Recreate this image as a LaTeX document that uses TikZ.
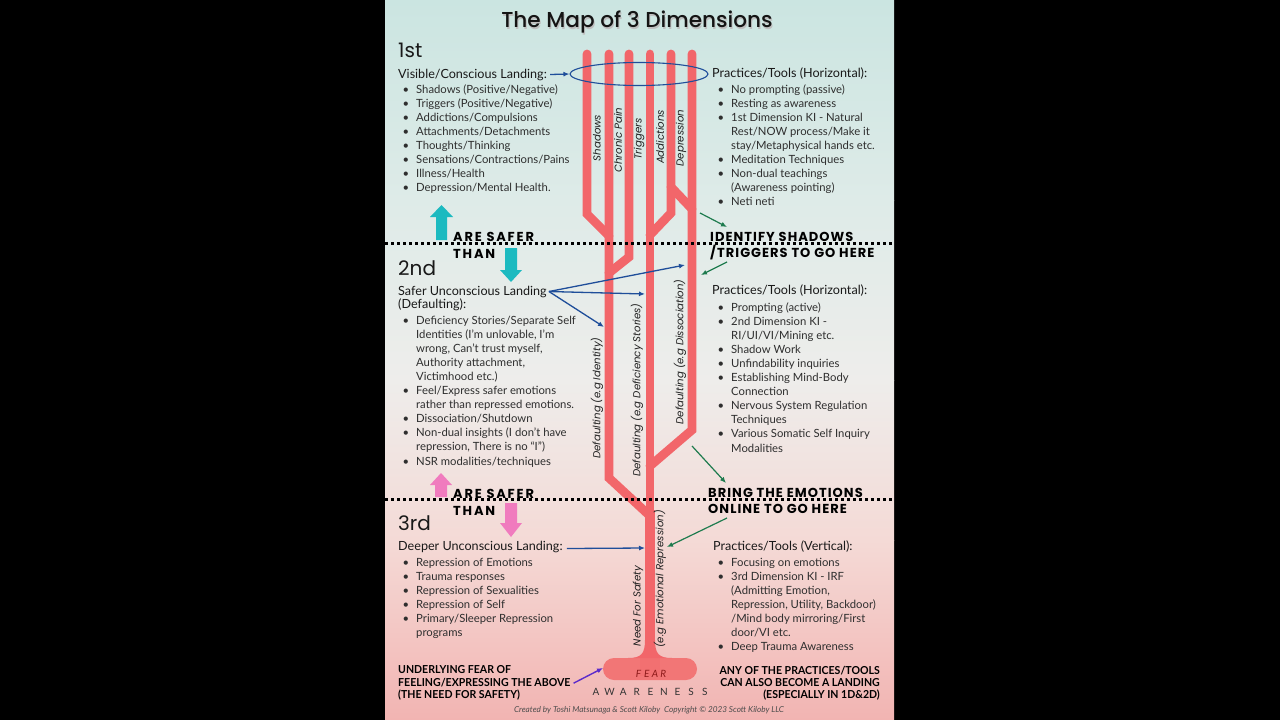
\documentclass[tikz,border=0pt]{standalone}
\usepackage{fontspec}
\usepackage{graphicx}
\usetikzlibrary{arrows.meta,shapes.geometric,fadings}
\setmainfont{Lato}
\newfontfamily\pop{Poppins}
\IfFontExistsTF{Poppins Medium}{\newfontfamily\popm{Poppins Medium}}{\newfontfamily\popm{Poppins}}
\definecolor{tealbg}{HTML}{CBE5E1}
\definecolor{tealbg2}{HTML}{DEEBE8}
\definecolor{graybg}{HTML}{EEEDEB}
\definecolor{pinkbg1}{HTML}{F4DAD6}
\definecolor{pinkbg2}{HTML}{F2B4B2}
\definecolor{cream}{HTML}{FAEEDF}
\definecolor{treered}{HTML}{F2666A}
\definecolor{fearred}{HTML}{F27676}
\definecolor{feartext}{HTML}{8E1A1A}
\definecolor{arrblue}{HTML}{1F4E9A}
\definecolor{arrgreen}{HTML}{1E7B4E}
\definecolor{arrpurple}{HTML}{5B2BCB}
\definecolor{cyanarr}{HTML}{1CBAC0}
\definecolor{pinkarr}{HTML}{F07BBE}
\definecolor{txt}{HTML}{2E2E2E}
\tikzfading[name=bandfade, top color=transparent!100, middle color=transparent!15, bottom color=transparent!100]
\newcommand\bl{\llap{\textbullet\hspace{7pt}}}
\newcommand\cond[1]{\scalebox{0.96}[1]{#1}}
\begin{document}
\begin{tikzpicture}[x=1pt,y=-1pt,
  body/.style={anchor=base west, inner sep=0pt, text=txt, align=left, font=\fontsize{11.3}{14.1}\selectfont},
  hdr/.style={anchor=base west, inner sep=0pt, text=black!90, font=\fontsize{12.6}{14}\selectfont},
  big/.style={anchor=base west, inner sep=0pt, text=black!90, font=\pop\fontsize{20}{24}\selectfont},
  caps/.style={anchor=base west, inner sep=0pt, text=black, font=\pop\bfseries\fontsize{13}{16}\selectfont\addfontfeature{LetterSpace=8}},
  bcaps/.style={inner sep=0pt, text=black, font=\bfseries\fontsize{11}{13}\selectfont},
  vlab/.style={rotate=90, inner sep=0pt, text=black!88, font=\pop\itshape\fontsize{10.2}{12}\selectfont},
  bar/.style={draw=treered, line width=8.8pt, line cap=round, line join=miter},
  barrow/.style={draw=arrblue, line width=1.3pt, -{Latex[length=6pt,width=5pt]}},
  garrow/.style={draw=arrgreen, line width=1.2pt, -{Latex[length=6pt,width=5pt]}},
  parrow/.style={draw=arrpurple, line width=1.4pt, -{Latex[length=6pt,width=5pt]}},
  dots/.style={line width=3pt, dash pattern=on 3pt off 3pt, draw=black}
]
\useasboundingbox (0,0) rectangle (1280,720);
% background
\fill[black] (0,0) rectangle (1280,720);
\shade[top color=tealbg, bottom color=tealbg2] (385,0) rectangle (894,200);
\shade[top color=tealbg2, bottom color=graybg] (385,200) rectangle (894,380);
\shade[top color=graybg, bottom color=pinkbg1] (385,380) rectangle (894,540);
\shade[top color=pinkbg1, bottom color=pinkbg2] (385,540) rectangle (894,720);
\fill[cream, path fading=bandfade] (385,650) rectangle (894,708);

% title
\node[inner sep=0pt, text=black!25, font=\popm\fontsize{21.6}{25}\selectfont] (titleshadow) at (638,23.5) {The Map of 3 Dimensions};
\node[inner sep=0pt, text=black!92, font=\popm\fontsize{21.6}{25}\selectfont] (title) at (637,22) {The Map of 3 Dimensions};

% tree
\draw[bar] (587,54) -- (587,214) -- (609,236);
\draw[bar] (609,54) -- (609,478) -- (650,516);
\draw[bar] (629,54) -- (629,257) -- (609,273);
\draw[bar] (671,54) -- (671,213) -- (650,235);
\draw[bar] (671,187) -- (692,209);
\draw[bar] (692,54) -- (692,430) -- (650,466);
\draw[bar] (650,54) -- (650,520);
\draw[draw=treered, line width=10pt] (650,510) -- (650,655);
\fill[fearred, rounded corners=11pt] (603,658) rectangle (697,680);
\fill[treered] (645,640) .. controls (645,654) and (641,658) .. (628,658) -- (672,658) .. controls (659,658) and (655,654) .. (655,640) -- cycle;
\fill[treered, opacity=0.35] (640,658) rectangle (660,676);
\foreach \l [count=\i] in {F,E,A,R}
  \node[inner sep=0pt, text=feartext, font=\itshape\fontsize{10}{12}\selectfont, name=fear\i] at (638.5+8.3*\i-8.3,674) {\l};
\foreach \l [count=\i] in {A,W,A,R,E,N,E,S,S}
  \node[inner sep=0pt, text=black!80, font=\fontsize{10}{12}\selectfont, name=aw\i] at (596+13.6*\i-13.6,692) {\l};

% bar labels
\node[vlab] (lshadows) at (597,138) {Shadows};
\node[vlab] (lchronic) at (618,140) {Chronic Pain};
\node[vlab] (ltrig) at (639,139) {Triggers};
\node[vlab] (laddict) at (660,137) {Addictions};
\node[vlab] (ldep) at (681,138) {Depression};
\node[vlab] (ld1) at (597,398) {Defaulting (e.g Identity)};
\node[vlab] (ld2) at (637,390) {Defaulting (e.g Deficiency Stories)};
\node[vlab] (ld3) at (680,352) {Defaulting (e.g Dissociation)};
\node[vlab] (lneed) at (638,606) {Need For Safety};
\node[vlab] (lrep) at (660,579) {(e.g Emotional Repression)};

% top oval
\node[ellipse, draw=arrblue, line width=1.1pt, minimum width=138pt, minimum height=23pt, inner sep=0pt] (oval) at (639,74) {};

% dotted separators
\draw[dots] (385,243) -- (894,243);
\draw[dots] (385,499) -- (894,499);

% block arrows
\fill[cyanarr] (436,240) -- (436,217) -- (430,217) -- (441.5,205) -- (453,217) -- (447,217) -- (447,240) -- cycle;
\fill[cyanarr] (505,248) -- (517,248) -- (517,270) -- (522,270) -- (511,282) -- (500,270) -- (505,270) -- cycle;
\fill[pinkarr] (435,497) -- (435,485) -- (430,485) -- (441,473) -- (452,485) -- (447,485) -- (447,497) -- cycle;
\fill[pinkarr] (505,503) -- (517,503) -- (517,523) -- (522,523) -- (511,537) -- (500,523) -- (505,523) -- cycle;

% ===== section 1
\node[big] (n1st) at (398,57) {1st};
\node[hdr] (vis) at (398,78) {Visible/Conscious Landing:};
\node[body] (list1l) at (416,191.7) {\bl Shadows (Positive/Negative)\\
\bl Triggers (Positive/Negative)\\
\bl Addictions/Compulsions\\
\bl Attachments/Detachments\\
\bl Thoughts/Thinking\\
\bl Sensations/Contractions/Pains\\
\bl Illness/Health\\
\bl Depression/Mental Health.};
\node[hdr] (pt1) at (712,77) {Practices/Tools (Horizontal):};
\node[body] (list1r) at (731,205.8) {\bl No prompting (passive)\\
\bl Resting as awareness\\
\bl 1st Dimension KI - Natural\\
Rest/NOW process/Make it\\
stay/Metaphysical hands etc.\\
\bl Meditation Techniques\\
\bl Non-dual teachings\\
(Awareness pointing)\\
\bl Neti neti};
\node[caps] (as1) at (453,241) {\addfontfeature{LetterSpace=14}ARE SAFER};
\node[caps] (than1) at (453,258) {\addfontfeature{LetterSpace=14}THAN};
\node[caps] (id1) at (710,241) {IDENTIFY SHADOWS};
\node[caps] (id2) at (710,257) {/TRIGGERS TO GO HERE};

% ===== section 2
\node[big] (n2nd) at (398,275) {2nd};
\node[hdr] (safer) at (398,295) {Safer Unconscious Landing};
\node[hdr] (safer2) at (398,308.5) {(Defaulting):};
\node[body] (list2l) at (416,465) {\bl Deficiency Stories/Separate Self\\
Identities (I'm unlovable, I'm\\
wrong, Can't trust myself,\\
Authority attachment,\\
Victimhood etc.)\\
\bl Feel/Express safer emotions\\
rather than repressed emotions.\\
\bl Dissociation/Shutdown\\
\bl Non-dual insights (I don't have\\
repression, There is no “I”)\\
\bl NSR modalities/techniques};
\node[hdr] (pt2) at (712,294) {Practices/Tools (Horizontal):};
\node[body] (list2r) at (731,452) {\bl Prompting (active)\\
\bl 2nd Dimension KI -\\
RI/UI/VI/Mining etc.\\
\bl Shadow Work\\
\bl Unfindability inquiries\\
\bl Establishing Mind-Body\\
Connection\\
\bl Nervous System Regulation\\
Techniques\\
\bl Various Somatic Self Inquiry\\
Modalities};
\node[caps] (as2) at (453,498) {\addfontfeature{LetterSpace=14}ARE SAFER};
\node[caps] (than2) at (453,515) {\addfontfeature{LetterSpace=14}THAN};
\node[caps] (br1) at (708,497) {BRING THE EMOTIONS};
\node[caps] (br2) at (708,513) {ONLINE TO GO HERE};

% ===== section 3
\node[big] (n3rd) at (398,530) {3rd};
\node[hdr] (deeper) at (398,550) {Deeper Unconscious Landing:};
\node[body] (list3l) at (416,636.5) {\bl Repression of Emotions\\
\bl Trauma responses\\
\bl Repression of Sexualities\\
\bl Repression of Self\\
\bl Primary/Sleeper Repression\\
programs};
\node[hdr] (pt3) at (713,550) {Practices/Tools (Vertical):};
\node[body] (list3r) at (731,650.6) {\bl Focusing on emotions\\
\bl 3rd Dimension KI - IRF\\
(Admitting Emotion,\\
Repression, Utility, Backdoor)\\
/Mind body mirroring/First\\
door/VI etc.\\
\bl Deep Trauma Awareness};

% bottom texts
\node[bcaps, anchor=base west] (u1) at (398,673) {\cond{UNDERLYING FEAR OF}};
\node[bcaps, anchor=base west] (u2) at (398,686) {\cond{FEELING/EXPRESSING THE ABOVE}};
\node[bcaps, anchor=base west] (u3) at (398,698) {\cond{(THE NEED FOR SAFETY)}};
\node[bcaps, anchor=base east] (a1) at (880,674) {\cond{ANY OF THE PRACTICES/TOOLS}};
\node[bcaps, anchor=base east] (a2) at (880,686) {\cond{CAN ALSO BECOME A LANDING}};
\node[bcaps, anchor=base east] (a3) at (880,698) {\cond{(ESPECIALLY IN 1D\&2D)}};
\node[inner sep=0pt, text=black!70, font=\itshape\fontsize{8.2}{9}\selectfont] (cred) at (649,710) {Created by Toshi Matsunaga \& Scott Kiloby\ \ Copyright © 2023 Scott Kiloby LLC};

% connector end points
\coordinate (tA) at (685,265);
\coordinate (tB) at (645,294);
\coordinate (tC) at (604,327);
\coordinate (tD) at (645,548);
\coordinate (g1s) at (700,213);
\coordinate (g1e) at (727,227);
\coordinate (g2s) at (727,262);
\coordinate (g2e) at (701,275);
\coordinate (g3s) at (692,446);
\coordinate (g3e) at (726,483);
\coordinate (g4s) at (727,518);
\coordinate (g4e) at (667,547);
\coordinate (fearin) at (603,668);

% connectors
\draw[barrow] ([xshift=3pt]vis.east) -- (oval.west);
\draw[barrow] ([xshift=2pt]safer.east) -- (tA);
\draw[barrow] ([xshift=2pt]safer.east) -- (tB);
\draw[barrow] ([xshift=2pt]safer.east) -- (tC);
\draw[barrow] ([xshift=4pt,yshift=-2pt]deeper.east) -- (tD);
\draw[garrow] (g1s) -- (g1e);
\draw[garrow] (g2s) -- (g2e);
\draw[garrow] (g3s) -- (g3e);
\draw[garrow] (g4s) -- (g4e);
\draw[parrow] ([xshift=3pt,yshift=-1pt]u2.east) -- (fearin);
\end{tikzpicture}
\end{document}
